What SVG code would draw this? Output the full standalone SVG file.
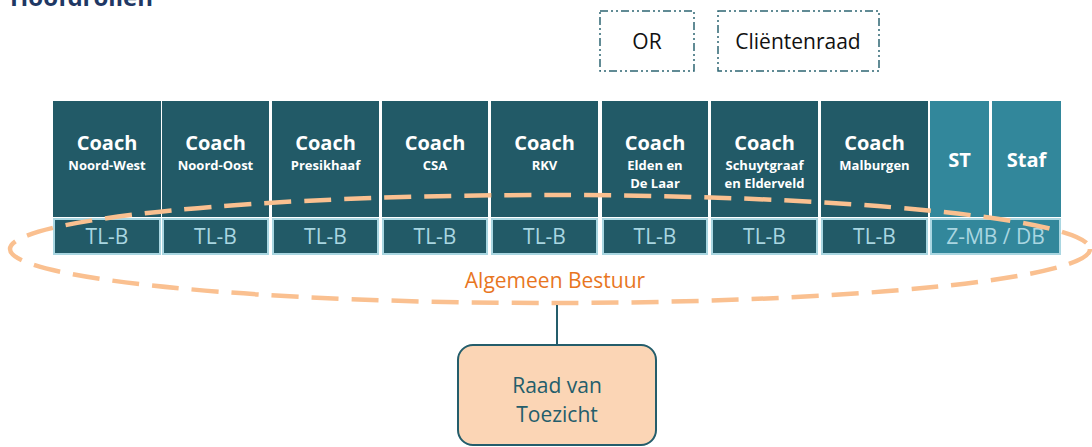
<svg xmlns="http://www.w3.org/2000/svg" width="1092" height="447" viewBox="0 0 1092 447">
<style>
.dark{fill:#225a67}
.light{fill:#32879b}
.h{font-family:"Open Sans","Noto Sans",sans-serif;font-weight:bold;fill:#ffffff;text-anchor:middle}
.c{font-size:20px}
.s{font-size:13px}
.tl{fill:#225a67;stroke:#a9d6e1;stroke-width:2}
.tlz{fill:#32879b;stroke:#a9d6e1;stroke-width:2}
.tlt{font-family:"Open Sans","Noto Sans",sans-serif;font-size:21px;fill:#a9d6e1;text-anchor:middle}
.ext{fill:#ffffff;stroke:#2e6673;stroke-width:1.5;stroke-dasharray:8 3 2 3 2 3}
.ext-t{font-family:"Open Sans","Noto Sans",sans-serif;font-size:21px;fill:#111111;text-anchor:middle}
.p{font-family:"Open Sans","Noto Sans",sans-serif;font-size:21px;text-anchor:middle}
</style>
<text x="10" y="6" font-family="Open Sans, Noto Sans, sans-serif" font-size="24" font-weight="bold" fill="#1f3864">Hoofdrollen</text>

<g id="or"><rect class="ext" x="600" y="11" width="94" height="60"/><text class="ext-t" x="647" y="49">OR</text></g>
<g id="clientenraad"><rect class="ext" x="718" y="11" width="161" height="60"/><text class="ext-t" x="798" y="49">Cliëntenraad</text></g>

<g id="coach-nw"><rect class="dark" x="53" y="101" width="108" height="116"/><text class="h c" x="107" y="150">Coach</text><text class="h s" x="107" y="170">Noord-West</text><rect class="tl" x="54" y="219" width="106" height="35"/><text class="tlt" x="107" y="244">TL-B</text></g>
<g id="coach-no"><rect class="dark" x="162" y="101" width="107" height="116"/><text class="h c" x="215.5" y="150">Coach</text><text class="h s" x="215.5" y="170">Noord-Oost</text><rect class="tl" x="163" y="219" width="105" height="35"/><text class="tlt" x="215.5" y="244">TL-B</text></g>
<g id="coach-presikhaaf"><rect class="dark" x="272" y="101" width="107" height="116"/><text class="h c" x="325.5" y="150">Coach</text><text class="h s" x="325.5" y="170">Presikhaaf</text><rect class="tl" x="273" y="219" width="105" height="35"/><text class="tlt" x="325.5" y="244">TL-B</text></g>
<g id="coach-csa"><rect class="dark" x="382" y="101" width="106" height="116"/><text class="h c" x="435" y="150">Coach</text><text class="h s" x="435" y="170">CSA</text><rect class="tl" x="383" y="219" width="104" height="35"/><text class="tlt" x="435" y="244">TL-B</text></g>
<g id="coach-rkv"><rect class="dark" x="491" y="101" width="107" height="116"/><text class="h c" x="544.5" y="150">Coach</text><text class="h s" x="544.5" y="170">RKV</text><rect class="tl" x="492" y="219" width="105" height="35"/><text class="tlt" x="544.5" y="244">TL-B</text></g>
<g id="coach-elden"><rect class="dark" x="602" y="101" width="106" height="116"/><text class="h c" x="655" y="150">Coach</text><text class="h s" x="655" y="170">Elden en</text><text class="h s" x="655" y="188">De Laar</text><rect class="tl" x="603" y="219" width="104" height="35"/><text class="tlt" x="655" y="244">TL-B</text></g>
<g id="coach-schuytgraaf"><rect class="dark" x="711" y="101" width="107" height="116"/><text class="h c" x="764.5" y="150">Coach</text><text class="h s" x="764.5" y="170">Schuytgraaf</text><text class="h s" x="764.5" y="188">en Elderveld</text><rect class="tl" x="712" y="219" width="105" height="35"/><text class="tlt" x="764.5" y="244">TL-B</text></g>
<g id="coach-malburgen"><rect class="dark" x="821" y="101" width="107" height="116"/><text class="h c" x="874.5" y="150">Coach</text><text class="h s" x="874.5" y="170">Malburgen</text><rect class="tl" x="822" y="219" width="105" height="35"/><text class="tlt" x="874.5" y="244">TL-B</text></g>
<g id="st"><rect class="light" x="930" y="101" width="59" height="116"/><text class="h c" x="959.5" y="167">ST</text></g>
<g id="staf"><rect class="light" x="992" y="101" width="69" height="116"/><text class="h c" x="1026.5" y="167">Staf</text></g>
<g id="zmb-db"><rect class="tlz" x="931" y="219" width="129" height="35"/><text class="tlt" x="995.5" y="244">Z-MB / DB</text></g>

<g id="algemeen-bestuur">
<ellipse cx="550" cy="249" rx="540" ry="54" fill="none" stroke="#fac090" stroke-width="4.5" stroke-dasharray="27 13"/>
<text class="p" x="555" y="288" font-size="22" fill="#e8761f">Algemeen Bestuur</text>
</g>

<g id="connectors"><line x1="557" y1="305" x2="557" y2="345" stroke="#245d6b" stroke-width="2"/></g>

<g id="raad-van-toezicht">
<rect x="458" y="345" width="198" height="100" rx="15" fill="#fbd5b5" stroke="#245d6b" stroke-width="2"/>
<text class="p" x="557" y="393" fill="#245d6b">Raad van</text>
<text class="p" x="557" y="422" fill="#245d6b">Toezicht</text>
</g>
</svg>
